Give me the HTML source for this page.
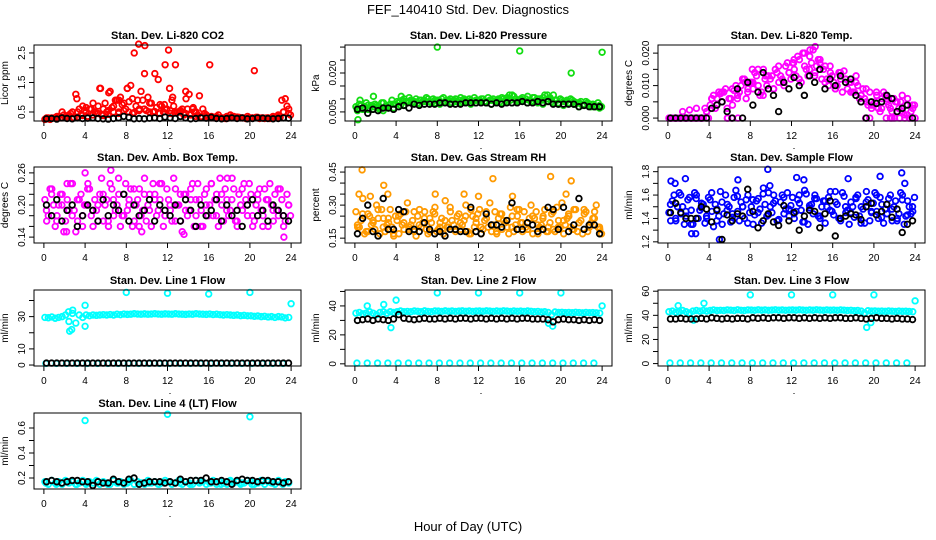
<!DOCTYPE html>
<html><head><meta charset="utf-8">
<style>
html,body{margin:0;padding:0;background:#fff;}
svg{display:block;font-family:"Liberation Sans",sans-serif;}
</style></head>
<body>
<svg id="chart" width="936" height="540" viewBox="0 0 936 540">
<rect width="936" height="540" fill="#fff"/>
<text x="468" y="14" text-anchor="middle" font-size="13">FEF_140410  Std. Dev. Diagnostics</text>
<text x="468" y="531" text-anchor="middle" font-size="13">Hour of Day (UTC)</text>
</svg>
<script>
// ---- shared x grids (hour of day) ----
const hours72 = [0.1,0.43,0.77,1.1,1.43,1.77,2.1,2.43,2.77,3.1,3.43,3.77,4.1,4.43,4.77,5.1,5.43,5.77,6.1,6.43,6.77,7.1,7.43,7.77,8.1,8.43,8.77,9.1,9.43,9.77,10.1,10.43,10.77,11.1,11.43,11.77,12.1,12.43,12.77,13.1,13.43,13.77,14.1,14.43,14.77,15.1,15.43,15.77,16.1,16.43,16.77,17.1,17.43,17.77,18.1,18.43,18.77,19.1,19.43,19.77,20.1,20.43,20.77,21.1,21.43,21.77,22.1,22.43,22.77,23.1,23.43,23.77];
const hours72b = hours72.map(h => h + 0.17);
const hours48 = [0.25,0.75,1.25,1.75,2.25,2.75,3.25,3.75,4.25,4.75,5.25,5.75,6.25,6.75,7.25,7.75,8.25,8.75,9.25,9.75,10.25,10.75,11.25,11.75,12.25,12.75,13.25,13.75,14.25,14.75,15.25,15.75,16.25,16.75,17.25,17.75,18.25,18.75,19.25,19.75,20.25,20.75,21.25,21.75,22.25,22.75,23.25,23.75];
const hours24 = [0.2,1.2,2.2,3.2,4.2,5.2,6.2,7.2,8.2,9.2,10.2,11.2,12.2,13.2,14.2,15.2,16.2,17.2,18.2,19.2,20.2,21.2,22.2,23.2];

// ---- CO2 ----
const co2Color = [0.25,0.3,0.28,0.3,0.35,0.5,0.3,0.4,0.5,1.1,0.6,0.7,0.5,0.6,0.8,0.45,1.3,0.6,0.5,1.2,0.7,0.9,1.0,0.8,1.3,1.4,2.5,0.9,1.2,1.8,1.0,0.8,1.8,1.6,0.7,2.1,2.6,0.9,2.1,0.5,0.6,1.2,1.1,0.6,0.5,1.05,0.6,0.4,2.1,0.3,0.35,0.3,0.3,0.35,0.4,0.35,0.3,0.3,0.3,0.35,0.3,1.9,0.3,0.3,0.28,0.3,0.3,0.3,0.35,0.9,0.95,0.6];
const co2Fill = [0.3,0.25,0.3,0.35,0.3,0.4,0.35,0.45,0.3,0.5,0.4,0.55,0.35,0.6,0.5,0.7,0.4,0.8,0.55,0.65,0.9,0.5,0.75,0.6,0.85,0.45,0.7,0.6,0.9,0.55,0.8,0.5,0.65,0.75,0.5,0.6,0.45,0.7,0.5,0.55,0.4,0.6,0.45,0.5,0.4,0.35,0.45,0.3,0.35,0.3,0.4,0.3,0.28,0.3,0.35,0.3,0.32,0.3,0.28,0.3,0.3,0.32,0.28,0.3,0.3,0.28,0.3,0.3,0.32,0.5,0.7,0.4];
const co2Base = [0.28,0.3,0.32,0.3,0.35,0.3,0.33,0.38,0.35,0.4,0.45,0.38,0.42,0.5,0.45,0.55,0.5,0.48,0.55,0.6,0.5,0.52,0.45,0.6,0.55,0.48,0.5,0.45,0.4,0.35,0.33,0.35,0.3,0.32,0.3,0.28,0.3,0.33,0.3,0.28,0.3,0.32,0.3,0.3,0.35,0.4,0.5,0.45];
const co2ExtraHours = [9.2,9.8,4.1,3.2,7.3,8.6,11.7,12.5,13.8,14.5,12.2,5.5,6.3,8.1];
const co2ExtraVals = [2.8,2.75,0.65,0.95,0.9,0.95,0.75,1.0,0.95,0.65,1.3,1.3,1.15,1.3];
const co2Black = [0.27,0.28,0.26,0.3,0.28,0.27,0.3,0.28,0.29,0.3,0.28,0.27,0.26,0.28,0.3,0.35,0.32,0.27,0.28,0.27,0.29,0.3,0.28,0.33,0.3,0.28,0.35,0.3,0.27,0.28,0.3,0.29,0.32,0.28,0.27,0.28,0.3,0.28,0.3,0.27,0.28,0.3,0.29,0.28,0.27,0.28,0.3,0.29];

// ---- Pressure ----
const presColor = [0.007,0.008,0.006,0.0085,0.0065,0.007,0.0075,0.006,0.0085,0.007,0.008,0.0065,0.009,0.0075,0.010,0.0085,0.0095,0.009,0.0085,0.0095,0.009,0.010,0.0085,0.0095,0.0095,0.010,0.009,0.0095,0.0085,0.010,0.0095,0.009,0.0095,0.010,0.009,0.0095,0.0095,0.010,0.009,0.0095,0.010,0.0095,0.009,0.010,0.0105,0.0095,0.011,0.0095,0.010,0.0095,0.011,0.009,0.0105,0.010,0.0095,0.0115,0.010,0.009,0.0095,0.0085,0.0095,0.009,0.0085,0.0095,0.008,0.0085,0.0075,0.009,0.0075,0.008,0.007,0.0075];
const presFill = [0.0065,0.0075,0.007,0.006,0.0075,0.008,0.0065,0.0085,0.007,0.0075,0.0095,0.008,0.0085,0.0095,0.009,0.0105,0.0085,0.01,0.0095,0.009,0.0105,0.009,0.01,0.0095,0.009,0.0105,0.0095,0.01,0.0095,0.009,0.0105,0.01,0.009,0.0095,0.0105,0.0095,0.01,0.009,0.0105,0.0095,0.009,0.01,0.0105,0.0095,0.01,0.0115,0.01,0.009,0.0105,0.01,0.0095,0.0105,0.0095,0.01,0.0105,0.009,0.0105,0.0115,0.0095,0.01,0.009,0.0095,0.01,0.009,0.0085,0.009,0.008,0.0085,0.007,0.0075,0.0085,0.007];
const presBase = [0.0055,0.0065,0.0075,0.006,0.007,0.0055,0.0065,0.008,0.0085,0.0075,0.009,0.0085,0.008,0.0095,0.009,0.0085,0.008,0.009,0.0085,0.009,0.0085,0.009,0.008,0.0085,0.009,0.0085,0.008,0.009,0.0085,0.009,0.0085,0.009,0.0095,0.0085,0.009,0.0085,0.008,0.009,0.0085,0.008,0.0075,0.0085,0.008,0.007,0.0075,0.008,0.007,0.0065];
const presExtraHours = [8,16,24,21,0.3,1.8,0.5,15,18.7,4.5];
const presExtraVals = [0.030,0.0285,0.028,0.020,0.002,0.011,0.0095,0.0115,0.0115,0.011];
const presBlack = [0.006,0.0065,0.0045,0.006,0.0055,0.0065,0.0065,0.006,0.0070,0.0075,0.0065,0.0080,0.0075,0.0080,0.0080,0.0080,0.0085,0.0085,0.0080,0.0080,0.0080,0.0085,0.0085,0.0085,0.0085,0.0085,0.0080,0.0085,0.0080,0.0085,0.0085,0.0085,0.0090,0.0085,0.0085,0.0090,0.0085,0.0090,0.0080,0.0080,0.0080,0.0080,0.0080,0.0070,0.0075,0.0070,0.0070,0.0070];

// ---- Li-820 Temp ----
const tempColor = [0,0,0,0,0.002,0,0.0025,0,0.003,0,0,0.002,0.004,0.007,0.006,0.0075,0.008,0,0.006,0.0085,0.007,0.01,0.012,0.009,0.011,0.014,0.010,0.008,0.012,0.009,0.013,0.015,0.011,0.012,0.016,0.014,0.017,0.013,0.018,0.020,0.015,0.019,0.021,0.016,0.018,0.015,0.012,0.014,0.011,0.010,0.012,0.0145,0.009,0.011,0.008,0.010,0.007,0.006,0.004,0.003,0.005,0.003,0.006,0.007,0.004,0,0.005,0.003,0.002,0.004,0,0.003];
const tempFill = [0,0,0,0,0,0,0,0,0,0,0.003,0,0.006,0.003,0.008,0.005,0.009,0.006,0.004,0.01,0.008,0.012,0.006,0.011,0.009,0.013,0.007,0.015,0.01,0.012,0.009,0.014,0.013,0.01,0.017,0.012,0.015,0.019,0.011,0.016,0.013,0.017,0.014,0.018,0.012,0.016,0.01,0.013,0.009,0.014,0.008,0.012,0.011,0.008,0.013,0.006,0.009,0.005,0.008,0.004,0.007,0.002,0.008,0.005,0.003,0.006,0.002,0.005,0.001,0.006,0.002,0.004];
const tempBase = [0,0,0,0,0,0,0,0.002,0.006,0.004,0.008,0.003,0.009,0.006,0.012,0.008,0.011,0.015,0.007,0.013,0.009,0.016,0.011,0.014,0.018,0.012,0.02,0.015,0.013,0.017,0.011,0.016,0.009,0.014,0.012,0.008,0.011,0.007,0.009,0.004,0.008,0.003,0.006,0.002,0.005,0.007,0.001,0.004];
const tempExtraHours = [5.8,6.2,6.8,19.2,19.6,21.2,21.6,22,22.5,23,23.5,24,14.3,13.8,8.2,9.5,12.2,7.5];
const tempExtraVals = [0,0,0,0,0,0,0,0,0,0,0,0,0.022,0.021,0.015,0.013,0.017,0.011];
const tempBlack = [0,0,0,0,0,0,0,0,0.003,0.004,0.005,0.002,0,0.009,0,0.011,0.004,0.008,0.014,0.009,0.007,0.002,0.011,0.009,0.0125,0.010,0.007,0.013,0.011,0.015,0.009,0.012,0.010,0.013,0.011,0.012,0.007,0.005,0,0.005,0.0045,0.005,0.007,0.006,0.002,0.003,0.004,0];

// ---- Amb Box Temp ----
const ambColor = [0.21,0.18,0.23,0.16,0.2,0.22,0.17,0.19,0.24,0.15,0.21,0.18,0.2,0.23,0.16,0.19,0.22,0.17,0.21,0.24,0.18,0.2,0.16,0.22,0.19,0.23,0.17,0.21,0.18,0.25,0.2,0.16,0.22,0.19,0.24,0.18,0.21,0.17,0.23,0.2,0.15,0.22,0.19,0.24,0.18,0.21,0.16,0.23,0.2,0.18,0.22,0.25,0.17,0.21,0.19,0.23,0.16,0.2,0.24,0.18,0.22,0.17,0.21,0.19,0.23,0.16,0.2,0.22,0.18,0.21,0.17,0.2];
const ambFill = [0.17,0.23,0.2,0.18,0.22,0.15,0.21,0.24,0.19,0.17,0.22,0.2,0.24,0.18,0.21,0.17,0.25,0.2,0.16,0.23,0.19,0.22,0.18,0.24,0.21,0.16,0.2,0.23,0.19,0.17,0.22,0.24,0.18,0.21,0.16,0.23,0.19,0.25,0.2,0.17,0.22,0.18,0.21,0.16,0.24,0.19,0.22,0.18,0.24,0.21,0.16,0.2,0.23,0.18,0.25,0.17,0.22,0.19,0.21,0.24,0.16,0.2,0.23,0.18,0.21,0.24,0.17,0.19,0.23,0.16,0.22,0.18];
const ambBase = [0.19,0.22,0.17,0.2,0.24,0.18,0.21,0.16,0.23,0.19,0.2,0.22,0.17,0.21,0.25,0.18,0.2,0.23,0.16,0.22,0.19,0.21,0.24,0.18,0.2,0.17,0.22,0.19,0.23,0.21,0.16,0.2,0.24,0.18,0.22,0.19,0.21,0.17,0.23,0.2,0.18,0.22,0.16,0.21,0.19,0.23,0.18,0.2];
const ambExtraHours = [6.5,4,23.3,13.6,2.2,17.8,9.5];
const ambExtraVals = [0.265,0.26,0.14,0.145,0.15,0.25,0.15];
const ambBlack = [0.2,0.18,0.21,0.17,0.19,0.2,0.16,0.18,0.2,0.19,0.17,0.21,0.18,0.2,0.19,0.22,0.17,0.2,0.18,0.19,0.21,0.17,0.2,0.19,0.18,0.2,0.17,0.21,0.19,0.16,0.2,0.18,0.19,0.21,0.17,0.2,0.18,0.19,0.16,0.2,0.21,0.18,0.19,0.17,0.2,0.19,0.18,0.17];

// ---- Gas Stream RH ----
const rhColor = [0.27,0.2,0.33,0.18,0.25,0.22,0.3,0.17,0.24,0.21,0.28,0.16,0.23,0.26,0.19,0.31,0.21,0.18,0.25,0.2,0.27,0.17,0.22,0.29,0.19,0.24,0.32,0.2,0.23,0.18,0.26,0.21,0.3,0.17,0.25,0.22,0.28,0.19,0.24,0.31,0.21,0.17,0.26,0.23,0.2,0.29,0.18,0.25,0.22,0.27,0.19,0.3,0.24,0.17,0.21,0.28,0.2,0.26,0.18,0.23,0.31,0.21,0.25,0.19,0.28,0.22,0.17,0.27,0.2,0.24,0.3,0.19];
const rhFill = [0.2,0.23,0.17,0.26,0.21,0.19,0.24,0.28,0.18,0.22,0.2,0.25,0.17,0.21,0.27,0.2,0.23,0.16,0.28,0.22,0.19,0.24,0.27,0.18,0.22,0.17,0.2,0.27,0.21,0.25,0.19,0.23,0.18,0.28,0.2,0.26,0.17,0.23,0.2,0.18,0.27,0.24,0.19,0.22,0.17,0.25,0.21,0.28,0.18,0.2,0.24,0.17,0.27,0.2,0.25,0.18,0.22,0.19,0.29,0.2,0.17,0.24,0.2,0.28,0.18,0.23,0.26,0.18,0.22,0.27,0.2,0.17];
const rhBase = [0.21,0.26,0.18,0.23,0.28,0.2,0.24,0.17,0.25,0.22,0.19,0.27,0.21,0.24,0.18,0.26,0.2,0.23,0.29,0.19,0.22,0.25,0.17,0.24,0.2,0.27,0.21,0.18,0.26,0.23,0.2,0.28,0.22,0.19,0.25,0.21,0.24,0.18,0.27,0.2,0.23,0.26,0.19,0.22,0.28,0.21,0.24,0.2];
const rhExtraHours = [0.7,2.8,13.4,19,21,3.2,10.6,0.4,1.5,7.8,12,15.3,20.5];
const rhExtraVals = [0.46,0.39,0.42,0.43,0.41,0.35,0.35,0.35,0.34,0.35,0.34,0.34,0.35];
const rhBlack = [0.17,0.24,0.30,0.18,0.16,0.33,0.19,0.19,0.28,0.27,0.18,0.19,0.18,0.22,0.19,0.17,0.18,0.16,0.19,0.19,0.18,0.18,0.29,0.18,0.17,0.26,0.21,0.21,0.20,0.23,0.31,0.19,0.19,0.22,0.21,0.18,0.19,0.29,0.28,0.19,0.29,0.18,0.21,0.33,0.19,0.21,0.21,0.17];

// ---- Sample Flow ----
const sfColor = [1.45,1.55,1.38,1.62,1.5,1.42,1.58,1.35,1.6,1.47,1.52,1.4,1.56,1.33,1.48,1.63,1.44,1.52,1.37,1.58,1.46,1.54,1.4,1.6,1.5,1.43,1.57,1.36,1.52,1.62,1.45,1.55,1.39,1.6,1.48,1.42,1.58,1.46,1.53,1.37,1.61,1.49,1.44,1.57,1.4,1.55,1.5,1.63,1.43,1.52,1.38,1.59,1.47,1.54,1.41,1.6,1.5,1.36,1.56,1.45,1.62,1.4,1.52,1.48,1.57,1.38,1.55,1.44,1.6,1.42,1.5,1.46];
const sfFill = [1.38,1.6,1.5,1.44,1.35,1.56,1.47,1.62,1.4,1.53,1.36,1.58,1.46,1.52,1.42,1.35,1.6,1.5,1.44,1.64,1.38,1.5,1.56,1.45,1.35,1.55,1.48,1.66,1.42,1.5,1.6,1.38,1.54,1.44,1.62,1.51,1.4,1.56,1.47,1.64,1.35,1.52,1.6,1.42,1.5,1.36,1.58,1.46,1.54,1.4,1.62,1.45,1.35,1.5,1.57,1.42,1.48,1.63,1.38,1.53,1.46,1.58,1.36,1.44,1.6,1.5,1.4,1.62,1.35,1.55,1.44,1.58];
const sfBase = [1.52,1.4,1.6,1.46,1.35,1.57,1.49,1.42,1.62,1.38,1.54,1.47,1.41,1.59,1.5,1.36,1.56,1.45,1.61,1.43,1.53,1.39,1.58,1.48,1.44,1.6,1.37,1.51,1.57,1.42,1.55,1.47,1.63,1.4,1.5,1.45,1.58,1.36,1.54,1.46,1.6,1.41,1.52,1.48,1.38,1.56,1.43,1.5];
const sfExtraHours = [0.3,0.7,1.7,9.7,12.5,13.2,17.5,20.6,22.7,23,5,2.3,2.7,6.8,9.9];
const sfExtraVals = [1.72,1.7,1.74,1.82,1.75,1.73,1.74,1.76,1.79,1.7,1.22,1.27,1.27,1.73,1.68];
const sfBlack = [1.45,1.53,1.45,1.4,1.4,1.4,1.5,1.48,1.37,1.47,1.22,1.43,1.38,1.44,1.42,1.65,1.46,1.32,1.38,1.44,1.37,1.34,1.51,1.38,1.45,1.3,1.42,1.47,1.46,1.32,1.44,1.55,1.25,1.4,1.42,1.44,1.43,1.39,1.5,1.53,1.43,1.46,1.52,1.41,1.48,1.28,1.35,1.38];

// ---- Line 1 Flow ----
const l1Color = [29.5,29.3,29.8,29,29.5,30,31,27,32,26,31,29.5,31,30.5,31,30.8,31,31.2,31,31.3,31,31.5,31.2,31.6,31.4,31.5,31.8,31.6,31.5,31.7,31.5,31.6,31.8,31.6,31.5,31.7,31.6,31.5,31.8,31.6,31.5,31.4,31.6,31.5,31.8,31.6,31.5,31.4,31.6,31.3,31.5,31.2,31,31.2,31,30.8,31,30.6,30.8,30.5,30.5,30.2,30.4,30,30.2,29.8,30,29.5,30,29.8,29.2,29.5];
const l1Low = [1,1,1,1,1,1,1,1,1,1,1,1,1,1,1,1,1,1,1,1,1,1,1,1];
const l1ExtraHours = [8,12,16,20,24,4,4,2.5,2.7,2.8,2.4];
const l1ExtraVals = [45,44.5,44,45,38,37,24,21,22,34,33];
const l1Black = [1.2,1.2,1.2,1.2,1.2,1.2,1.2,1.2,1.2,1.2,1.2,1.2,1.2,1.2,1.2,1.2,1.2,1.2,1.2,1.2,1.2,1.2,1.2,1.2,1.2,1.2,1.2,1.2,1.2,1.2,1.2,1.2,1.2,1.2,1.2,1.2,1.2,1.2,1.2,1.2,1.2,1.2,1.2,1.2,1.2,1.2,1.2,1.2];

// ---- Line 2 Flow ----
const l2Color = [35,35.5,34.5,35,36,35,34,35.5,36,35,36,35.5,36,36.5,36,36.2,36,36.5,36.3,36,36.6,36.2,36,36.5,36.4,36.2,36.6,36.3,36.5,36.2,36.4,36.6,36.3,36.5,36.2,36.4,36.5,36.3,36.6,36.4,36.2,36.5,36.3,36.6,36.4,36.2,36.5,36.3,36.4,36.2,36.5,36.3,36,36.2,35.8,36,35.5,34,35.8,35.5,35.6,35.4,35.5,35.3,35.6,35.4,35.2,35.5,35.3,35.4,35.2,35];
const l2Low = [0.5,0.5,0.5,0.5,0.5,0.5,0.5,0.5,0.5,0.5,0.5,0.5,0.5,0.5,0.5,0.5,0.5,0.5,0.5,0.5,0.5,0.5,0.5,0.5];
const l2ExtraHours = [4,8,12,16,20,24,3.5,19.2,18.8,1.2,2.8];
const l2ExtraVals = [44,49,49,49,49,40,25,26,28,40,41];
const l2Black = [30,30.5,31,30,31,30.5,30,31,34,31.5,31,30.5,31,31.5,31,31,31.5,31,31.5,31,31.5,31.5,31,31.5,31.5,31,31.5,31,31.5,31,31.5,31,31.5,31.5,31,31,31,30.5,29,30.5,31,30.5,30.5,30,30.5,30,30.5,30];

// ---- Line 3 Flow ----
const l3Color = [43,43.5,42.5,43,44,43,42,43.5,44,43.5,44,43.5,44,44.5,44,44.2,44,44.5,44.3,44,44.6,44.2,44,44.5,44.4,44.2,44.6,44.3,44.5,44.2,44.4,44.6,44.3,44.5,44.2,44.4,44.5,44.3,44.6,44.4,44.2,44.5,44.3,44.6,44.4,44.2,44.5,44.3,44.4,44.2,44.5,44.3,44,44.2,43.8,44,43.5,42,43.8,43.5,43.6,43.4,43.5,43.3,43.6,43.4,43.2,43.5,43.3,43.4,43.2,43];
const l3Low = [0.5,0.5,0.5,0.5,0.5,0.5,0.5,0.5,0.5,0.5,0.5,0.5,0.5,0.5,0.5,0.5,0.5,0.5,0.5,0.5,0.5,0.5,0.5,0.5];
const l3ExtraHours = [8,12,16,20,19.3,19.7,24,1,3.5,2.5];
const l3ExtraVals = [57,57,57,57,30,34,52,48,50,36];
const l3Black = [37,37,37.5,37,37,37,37.5,37,38,37.5,37,37.5,37,37.5,37.5,37,38,37.5,38,37.5,38,38,37.5,38,38,37.5,38,37.5,38,37.5,38,37.5,38,38,37.5,37.5,38,37.5,37,37.5,38,37.5,37.5,37,37.5,37,37,36.5];

// ---- Line 4 (LT) Flow ----
const l4Color = [0.17,0.15,0.18,0.16,0.17,0.15,0.18,0.16,0.17,0.15,0.16,0.18,0.15,0.17,0.16,0.18,0.15,0.17,0.16,0.15,0.18,0.16,0.17,0.15,0.16,0.18,0.15,0.17,0.16,0.15,0.18,0.16,0.17,0.15,0.16,0.18,0.17,0.15,0.16,0.18,0.15,0.17,0.16,0.15,0.18,0.16,0.17,0.15,0.16,0.18,0.15,0.17,0.16,0.15,0.18,0.16,0.17,0.15,0.16,0.18,0.17,0.15,0.16,0.18,0.15,0.17,0.16,0.15,0.18,0.16,0.17,0.16];
const l4Low = [0.16,0.15,0.17,0.15,0.16,0.17,0.15,0.16,0.17,0.15,0.16,0.15,0.17,0.16,0.15,0.17,0.16,0.15,0.17,0.16,0.15,0.17,0.16,0.15];
const l4ExtraHours = [4,12,20];
const l4ExtraVals = [0.66,0.71,0.69];
const l4Black = [0.17,0.18,0.17,0.16,0.17,0.18,0.18,0.17,0.17,0.14,0.17,0.16,0.16,0.19,0.17,0.16,0.19,0.2,0.15,0.16,0.17,0.17,0.17,0.16,0.17,0.16,0.19,0.17,0.18,0.18,0.18,0.2,0.17,0.17,0.18,0.17,0.15,0.18,0.19,0.18,0.18,0.17,0.18,0.18,0.17,0.17,0.16,0.17];

const panels = [
 {name:'co2',title:'Stan. Dev. Li-820 CO2',ylab:'Licor ppm',x:34,y:45,col:'#ff0000',y0:0.195,y1:2.77,ticks:[0.5,1,1.5,2,2.5],labels:['0.5','1.5','2.5'],series:[[hours72,co2Color],[hours72b,co2Fill],[hours48,co2Base],[co2ExtraHours,co2ExtraVals]],black:co2Black},
 {name:'pressure',title:'Stan. Dev. Li-820 Pressure',ylab:'kPa',x:345,y:45,col:'#11dd11',y0:0.0015,y1:0.0308,ticks:[0.005,0.01,0.015,0.02,0.025,0.03],labels:['0.005','0.020'],series:[[hours72,presColor],[hours72b,presFill],[hours48,presBase],[presExtraHours,presExtraVals]],black:presBlack},
 {name:'temp',title:'Stan. Dev. Li-820 Temp.',ylab:'degrees C',x:658,y:45,col:'#ff00ff',y0:-0.0009,y1:0.0225,ticks:[0,0.005,0.01,0.015,0.02],labels:['0.000','0.010','0.020'],series:[[hours72,tempColor],[hours72b,tempFill],[hours48,tempBase],[tempExtraHours,tempExtraVals]],black:tempBlack},
 {name:'amb-box',title:'Stan. Dev. Amb. Box Temp.',ylab:'degrees C',x:34,y:167,col:'#ff00ff',y0:0.129,y1:0.271,ticks:[0.14,0.16,0.18,0.2,0.22,0.24,0.26],labels:['0.14','0.20','0.26'],series:[[hours72,ambColor],[hours72b,ambFill],[hours48,ambBase],[ambExtraHours,ambExtraVals]],black:ambBlack},
 {name:'rh',title:'Stan. Dev. Gas Stream RH',ylab:'percent',x:345,y:167,col:'#ff9a00',y0:0.128,y1:0.473,ticks:[0.15,0.2,0.25,0.3,0.35,0.4,0.45],labels:['0.15','0.30','0.45'],series:[[hours72,rhColor],[hours72b,rhFill],[hours48,rhBase],[rhExtraHours,rhExtraVals]],black:rhBlack},
 {name:'sample-flow',title:'Stan. Dev. Sample Flow',ylab:'ml/min',x:658,y:167,col:'#0000ff',y0:1.19,y1:1.84,ticks:[1.2,1.3,1.4,1.5,1.6,1.7,1.8],labels:['1.2','1.4','1.6','1.8'],series:[[hours72,sfColor],[hours72b,sfFill],[hours48,sfBase],[sfExtraHours,sfExtraVals]],black:sfBlack},
 {name:'line1',title:'Stan. Dev. Line 1 Flow',ylab:'ml/min',x:34,y:290,col:'#00ffff',y0:-0.6,y1:46.5,ticks:[0,10,20,30,40],labels:['0','10','30'],series:[[hours72,l1Color],[hours24,l1Low],[l1ExtraHours,l1ExtraVals]],black:l1Black},
 {name:'line2',title:'Stan. Dev. Line 2 Flow',ylab:'ml/min',x:345,y:290,col:'#00ffff',y0:-1.5,y1:51,ticks:[0,10,20,30,40,50],labels:['0','20','40'],series:[[hours72,l2Color],[hours24,l2Low],[l2ExtraHours,l2ExtraVals]],black:l2Black},
 {name:'line3',title:'Stan. Dev. Line 3 Flow',ylab:'ml/min',x:658,y:290,col:'#00ffff',y0:-2,y1:61,ticks:[0,10,20,30,40,50,60],labels:['0','20','40','60'],series:[[hours72,l3Color],[hours24,l3Low],[l3ExtraHours,l3ExtraVals]],black:l3Black},
 {name:'line4',title:'Stan. Dev. Line 4 (LT) Flow',ylab:'ml/min',x:34,y:413,col:'#00ffff',y0:0.112,y1:0.72,ticks:[0.2,0.3,0.4,0.5,0.6],labels:['0.2','0.4','0.6'],series:[[hours72,l4Color],[hours24,l4Low],[l4ExtraHours,l4ExtraVals]],black:l4Black}
];
const xTicks = [0,4,8,12,16,20,24];

const NS='http://www.w3.org/2000/svg';
const svg=document.getElementById('chart');
function mk(tag,attrs,parent){const e=document.createElementNS(NS,tag);for(const k in attrs)e.setAttribute(k,attrs[k]);parent.appendChild(e);return e;}
const W=267,H=76;
panels.forEach(p=>{
  const g=mk('g',{},svg);
  
  
  const xs=h=>p.x+(h+0.96)/25.92*W;
  const ys=v=>p.y+H-(v-p.y0)/(p.y1-p.y0)*H;
  const t=mk('text',{x:p.x+W/2,y:p.y-6,'text-anchor':'middle','font-size':11,'font-weight':'bold'},g);
  t.textContent=p.title;
  
  
  const yl=mk('text',{transform:`translate(${p.x-26},${p.y+H/2}) rotate(-90)`,'text-anchor':'middle','font-size':10},g);
  yl.textContent=p.ylab;
  
  
  const pts=mk('g',{fill:'none','stroke-width':1.8},g);
  
  
  p.series.forEach(([hx,vals])=>{
    vals.forEach((v,i)=>{
      const c=mk('circle',{cx:xs(hx[i]),cy:ys(v),r:2.8,stroke:p.col},pts);
      
      
    });
  });
  p.black.forEach((v,i)=>{
    const c=mk('circle',{cx:xs(hours48[i]),cy:ys(v),r:2.8,stroke:'#000'},pts);
    
    
  });
  const b=mk('rect',{x:p.x,y:p.y,width:W,height:H,fill:'none',stroke:'#000','stroke-width':1},g);
  
  
  xTicks.forEach(h=>{
    mk('line',{x1:xs(h),x2:xs(h),y1:p.y+H,y2:p.y+H+5,stroke:'#000'},g);
    const l=mk('text',{x:xs(h),y:p.y+H+18,'text-anchor':'middle','font-size':10},g);
    l.textContent=h;
    
    
  });
  mk('rect',{x:p.x+W/2+2,y:p.y+H+27,width:1,height:1,fill:'#000'},g);
  p.ticks.forEach(v=>{
    mk('line',{x1:p.x-5,x2:p.x,y1:ys(v),y2:ys(v),stroke:'#000'},g);
  });
  p.labels.forEach(s=>{
    const v=parseFloat(s);
    const l=mk('text',{transform:`translate(${p.x-9},${ys(v)}) rotate(-90)`,'text-anchor':'middle','font-size':10},g);
    l.textContent=s;
    
    
  });
});
</script>
</body></html>
